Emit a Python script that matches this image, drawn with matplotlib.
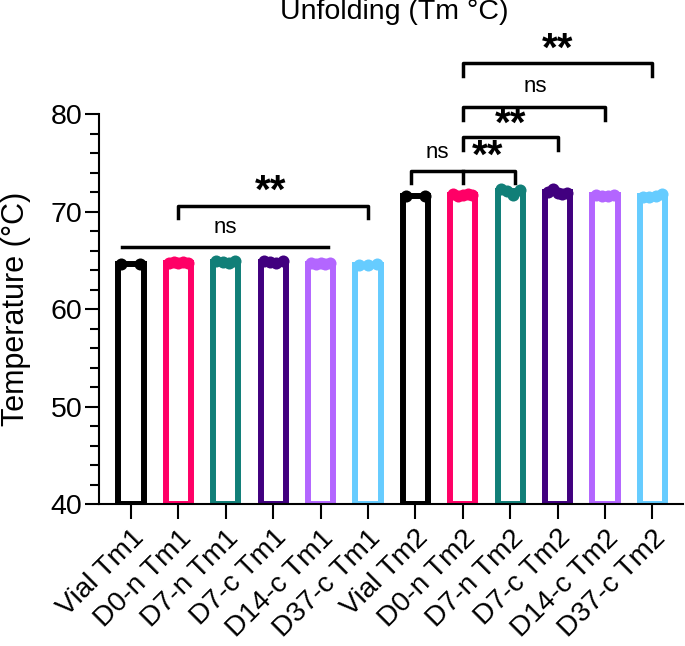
import numpy as np
import matplotlib.pyplot as plt

plt.rcParams['font.family'] = ['Liberation Sans', 'DejaVu Sans']

# groups and replicate values (Tm, °C)
labels = ['Vial Tm1', 'D0-n Tm1', 'D7-n Tm1', 'D7-c Tm1', 'D14-c Tm1', 'D37-c Tm1',
          'Vial Tm2', 'D0-n Tm2', 'D7-n Tm2', 'D7-c Tm2', 'D14-c Tm2', 'D37-c Tm2']
vial_tm1 = [64.6, 64.6]
d0n_tm1 = [64.7, 64.8, 64.7, 64.8, 64.7]
d7n_tm1 = [64.9, 64.8, 64.7, 64.9]
d7c_tm1 = [64.9, 64.8, 64.7, 64.9]
d14c_tm1 = [64.7, 64.6, 64.7, 64.6, 64.7]
d37c_tm1 = [64.5, 64.5, 64.6]
vial_tm2 = [71.6, 71.6]
d0n_tm2 = [71.8, 71.6, 71.7, 71.8, 71.7]
d7n_tm2 = [72.3, 72.1, 71.7, 72.2]
d7c_tm2 = [72.0, 72.3, 71.9, 71.8, 71.9]
d14c_tm2 = [71.7, 71.6, 71.6, 71.7]
d37c_tm2 = [71.5, 71.5, 71.6, 71.8]
groups = [vial_tm1, d0n_tm1, d7n_tm1, d7c_tm1, d14c_tm1, d37c_tm1,
          vial_tm2, d0n_tm2, d7n_tm2, d7c_tm2, d14c_tm2, d37c_tm2]

colors = ['#000000', '#FF0066', '#117F78', '#41007F', '#B366FF', '#66CCFF'] * 2

# comparisons: (first bar, last bar, line height, label)
brackets = [(1, 5, 70.6, '**'),
            (7, 11, 85.2, 'ns'),
            (7, 10, 80.7, 'ns'),
            (7, 9, 77.6, '**')]

fig = plt.figure(figsize=(6.85, 6.46), dpi=100)
ax = fig.add_axes([0.1445, 0.2198, 0.8526, 0.6037])

x = np.arange(len(labels))
means = [np.mean(g) for g in groups]
ax.bar(x, np.array(means) - 40, bottom=40, width=0.53, color='white',
       edgecolor=colors, linewidth=4.3, zorder=2)
for i, g in enumerate(groups):
    n = len(g)
    xs = i + np.linspace(-0.2, 0.2, n) if n > 1 else [i]
    ax.scatter(xs, g, s=75, color=colors[i], zorder=3, linewidths=0, clip_on=False)

ax.set_xlim(-0.675, 11.646)
ax.set_ylim(40, 80)
ax.set_yticks([40, 50, 60, 70, 80])
ax.set_yticks(np.arange(40, 81, 2), minor=True)
ax.set_xticks(x)
ax.set_xticklabels(labels, rotation=45, ha='right', rotation_mode='anchor', fontsize=20.3)
ax.tick_params(axis='y', labelsize=20.5, length=10, width=1.5, pad=2)
ax.tick_params(axis='y', which='minor', length=6.5, width=1.5)
ax.tick_params(axis='x', length=11, width=1.5, pad=4)
for s in ['top', 'right']:
    ax.spines[s].set_visible(False)
for s in ['left', 'bottom']:
    ax.spines[s].set_linewidth(1.5)
ax.set_ylabel('Temperature (°C)', fontsize=22, labelpad=14)

lw = 2.5
# Tm1 flat ns line
ax.plot([-0.19, 4.16], [66.4, 66.4], color='black', lw=lw, clip_on=False)
ax.text(2.0, 67.8, 'ns', fontsize=16, ha='center', va='baseline')
for a, b, y, lab in brackets:
    ax.plot([a, a, b, b], [y - 1.3, y, y, y - 1.3], color='black', lw=lw, clip_on=False)
ax.text(2.95, 70.9, '**', fontsize=29, fontweight='bold', ha='center', va='baseline')
ax.text(9.0, 85.5, '**', fontsize=29, fontweight='bold', ha='center', va='baseline', clip_on=False)
ax.text(8.52, 82.3, 'ns', fontsize=16, ha='center', va='baseline')
ax.text(8.0, 77.8, '**', fontsize=29, fontweight='bold', ha='center', va='baseline')
ax.text(7.53, 74.5, '**', fontsize=29, fontweight='bold', ha='center', va='baseline')
ax.text(6.46, 75.5, 'ns', fontsize=16, ha='center', va='baseline')
# Vial / D0-n / D7-n bracket with middle tick
ax.plot([5.9, 5.9, 8.1, 8.1], [72.9, 74.2, 74.2, 72.9], color='black', lw=lw, clip_on=False)
ax.plot([7, 7], [74.2, 72.9], color='black', lw=lw, clip_on=False)

fig.text(394 / 685, 1 - 12 / 646, 'Unfolding (Tm °C)', fontsize=20.5, ha='center', va='center')

plt.savefig('out.png', dpi=100)
